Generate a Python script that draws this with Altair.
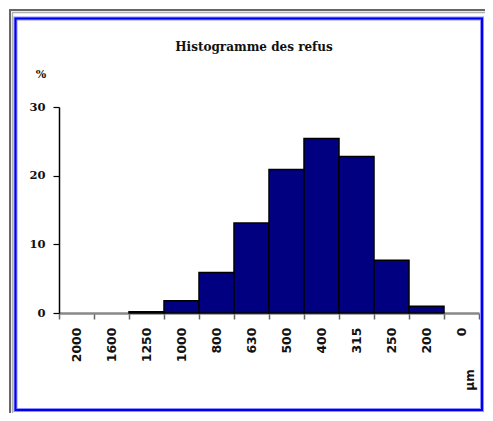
import altair as alt
import pandas as pd

categories = ["2000", "1600", "1250", "1000", "800", "630", "500", "400", "315", "250", "200", "0"]
values = [0, 0, 0.2, 1.8, 5.9, 13.1, 20.9, 25.4, 22.8, 7.7, 1.0, 0]
y_ticks = [0, 10, 20, 30]
title_text = "Histogramme des refus"
y_title = "%"
x_title = "µm"

df = pd.DataFrame({"taille": categories, "pct": values})

bars = alt.Chart(df).mark_bar(fill="#000080", stroke="black", strokeWidth=1.5).encode(
    x=alt.X(
        "taille:N",
        sort=categories,
        scale=alt.Scale(paddingInner=0, paddingOuter=0),
        axis=alt.Axis(
            title=None,
            labelAngle=270,
            labelFont="DejaVu Sans",
            labelFontSize=12.5,
            labelFontWeight="bold",
            labelColor="#111111",
            labelPadding=8,
            tickBand="extent",
            tickSize=6,
            tickColor="#666666",
            tickWidth=1.5,
            domainColor="#888888",
            domainWidth=2.5,
            grid=False,
            zindex=0,
        ),
    ),
    y=alt.Y(
        "pct:Q",
        scale=alt.Scale(domain=[0, 30]),
        axis=alt.Axis(
            values=y_ticks,
            title=None,
            labelFont="DejaVu Serif",
            labelFontSize=11.5,
            labelFontWeight="bold",
            labelColor="#111111",
            labelPadding=8,
            tickSize=6,
            tickColor="black",
            tickWidth=1.2,
            domainColor="black",
            domainWidth=1.5,
            grid=False,
        ),
    ),
    strokeOpacity=alt.condition("datum.pct > 0", alt.value(1), alt.value(0)),
)

one = alt.Data(values=[{}])

gray_outer = alt.Chart(one).mark_rect(fill=None, stroke="#666666", strokeWidth=2).encode(
    x=alt.value(-49), x2=alt.value(440), y=alt.value(-97), y2=alt.value(330)
)
gray_inner = alt.Chart(one).mark_rect(fill=None, stroke="#b0b0b0", strokeWidth=1.5).encode(
    x=alt.value(-46.5), x2=alt.value(440), y=alt.value(-94.5), y2=alt.value(330)
)
blue_halo = alt.Chart(one).mark_rect(fill=None, stroke="#9090ff", strokeWidth=4).encode(
    x=alt.value(-43.5), x2=alt.value(423), y=alt.value(-88.5), y2=alt.value(303)
)
blue = alt.Chart(one).mark_rect(fill=None, stroke="#0000ee", strokeWidth=2).encode(
    x=alt.value(-43.5), x2=alt.value(423), y=alt.value(-88.5), y2=alt.value(303)
)

title_mark = alt.Chart(one).mark_text(
    text=title_text, font="DejaVu Serif", fontSize=12, fontWeight="bold",
    color="#111111", align="center", baseline="middle"
).encode(x=alt.value(195), y=alt.value(-60))

y_title_mark = alt.Chart(one).mark_text(
    text=y_title, font="DejaVu Serif", fontSize=11, fontWeight="bold",
    color="#111111", align="center", baseline="middle"
).encode(x=alt.value(-18), y=alt.value(-32))

x_title_mark = alt.Chart(one).mark_text(
    text=x_title, font="DejaVu Sans", fontSize=12, fontWeight="bold",
    color="#111111", align="center", baseline="middle", angle=270
).encode(x=alt.value(411), y=alt.value(273))

chart = alt.layer(
    gray_outer, gray_inner, blue_halo, blue, bars, title_mark, y_title_mark, x_title_mark
).properties(
    width=420,
    height=206,
    padding={"left": 51, "top": 99, "right": 6, "bottom": 100},
    autosize=alt.AutoSizeParams(type="none"),
).configure_view(stroke=None)

chart.save("out.html", embed_options={"renderer": "svg", "actions": False})
